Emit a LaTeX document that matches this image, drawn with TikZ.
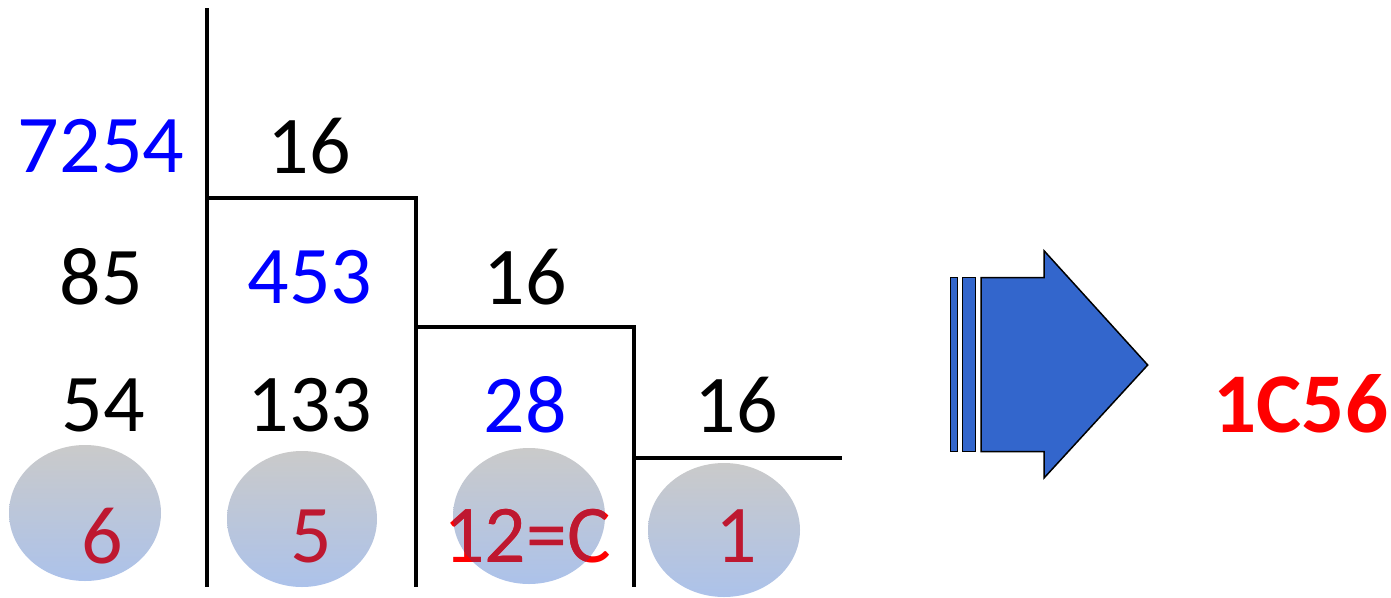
\documentclass[tikz,border=0pt]{standalone}
\usepackage{fontspec}
\setmainfont{Carlito}
\definecolor{numblue}{RGB}{0,0,255}
\definecolor{remred}{RGB}{190,24,48}
\definecolor{brightred}{RGB}{255,0,0}
\definecolor{arrowblue}{RGB}{51,102,204}
\definecolor{elltop}{RGB}{202,202,202}
\definecolor{ellbot}{RGB}{172,194,234}
\begin{document}
\begin{tikzpicture}[x=1pt,y=-1pt,
  num/.style={font=\fontsize{82}{90}\selectfont, inner sep=0pt},
  bl/.style={num, text=numblue},
  rem/.style={num, text=remred},
  divline/.style={line width=4pt},
  ell/.style={top color=elltop, bottom color=ellbot, draw=none},
  arrowpart/.style={fill=arrowblue, draw=black, line width=1.5pt, line join=miter}]
\useasboundingbox (0,0) rectangle (1391,597);
% division lines
\draw[divline] (207,8) -- (207,587);
\draw[divline] (207,198) -- (416,198) -- (416,587);
\draw[divline] (416,327) -- (634,327) -- (634,587);
\draw[divline] (634,458) -- (842,458);
% numbers
\node[bl] (n7254) at (101,146) {7254};
\node[num] (d1) at (309,146) {16};
\node[num] (n85) at (101,277) {85};
\node[bl] (n453) at (310,277) {453};
\node[num] (d2) at (525,277) {16};
\node[num] (n54) at (103,405) {54};
\node[num] (n133) at (310,405) {133};
\node[bl] (n28) at (525,405) {28};
\node[num] (d3) at (736,405) {16};
% ellipses
\shade[ell] (85,513) ellipse [x radius=76, y radius=68];
\shade[ell] (302,519) ellipse [x radius=75, y radius=68];
\shade[ell] (529,516) ellipse [x radius=76, y radius=68];
\shade[ell] (724,530) ellipse [x radius=76, y radius=67];
% remainders
\node[rem] (r6) at (102,536) {6};
\node[rem] (r5) at (311,536) {5};
\node[num, text=brightred] (r12) at (527,536) {12=C};
\begin{scope}
  \clip (529,516) ellipse [x radius=76, y radius=68];
  \node[rem] (r12in) at (527,536) {12=C};
\end{scope}
\node[rem] (r1) at (736,536) {1};
% arrow
\draw[arrowpart] (950.7,277.7) rectangle (957.3,451.7);
\draw[arrowpart] (962.7,277.7) rectangle (975.7,451.7);
\draw[arrowpart] (981,277.7) -- (1044,277.7) -- (1044,250.7) -- (1147.7,365)
  -- (1044,478) -- (1044,451.7) -- (981,451.7) -- cycle;
% result
\node[num, font=\fontsize{85}{90}\selectfont\bfseries, text=brightred] (res) at (1301,404) {1C56};
\end{tikzpicture}
\end{document}
